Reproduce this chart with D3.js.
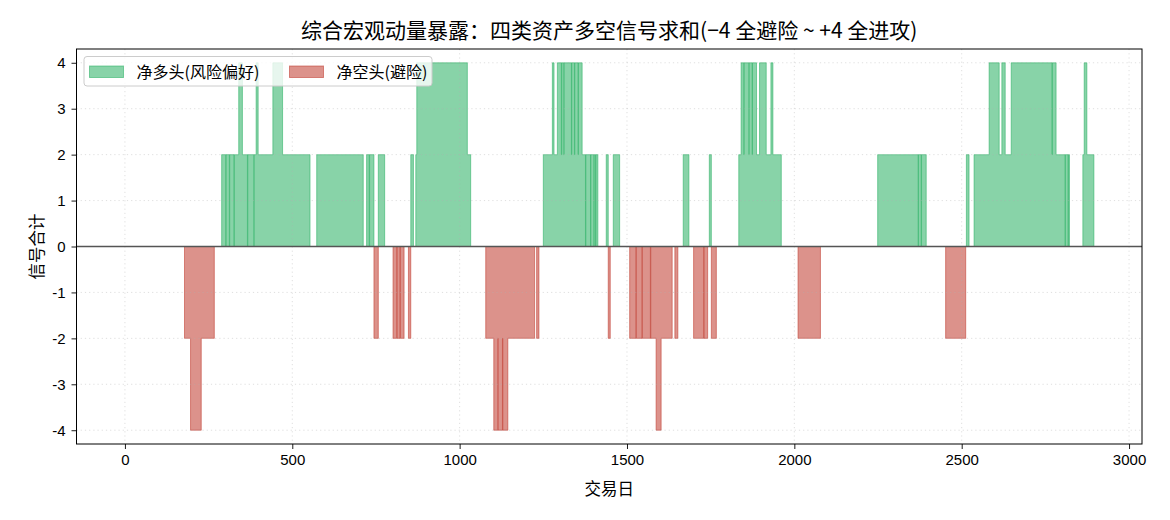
<!DOCTYPE html>
<html>
<head>
<meta charset="utf-8">
<script src="https://cdn.jsdelivr.net/npm/d3@7"></script>
<style>
  body { margin: 0; background: #fff; }
  svg { display: block; }
</style>
</head>
<body>
<div id="chart"></div>
<script>
// signal: value holds from segStart[i] until segStart[i+1]
const segStart = [0, 178, 196, 228, 267, 289, 301, 302, 312, 313, 326, 327, 340, 351, 366, 367, 385, 386, 392, 398, 442, 471, 553,
  573, 712, 722, 730, 731, 744, 757, 776, 801, 812, 813, 822, 823, 834, 847, 854, 862,
  869, 872, 1023, 1033, 1078, 1102, 1114, 1115, 1128, 1129, 1144, 1224, 1230, 1237,
  1250, 1277, 1282, 1292, 1304, 1305, 1311, 1312, 1334, 1335, 1343, 1344, 1354, 1355, 1366, 1376, 1377, 1391, 1392, 1401, 1402, 1406, 1407, 1413,
  1438, 1444, 1450, 1459, 1478,
  1508, 1527, 1528, 1545, 1546, 1570, 1571, 1587, 1602, 1635, 1643, 1652, 1668, 1685,
  1699, 1729, 1730, 1741, 1746, 1752, 1767,
  1834, 1841, 1849, 1850, 1864, 1865, 1874, 1875, 1887, 1896, 1916, 1930, 1936, 1961,
  2011, 2078, 2249, 2370, 2371, 2379, 2380, 2394, 2452, 2512, 2514, 2522,
  2537, 2582, 2612, 2620, 2630, 2648, 2770, 2771, 2782, 2809, 2810, 2818, 2819, 2822, 2862, 2866, 2874];
const segValue = [0, -2, -4, -2, 0, 2, 0, 2, 0, 2, 0, 2, 4, 2, 0, 2, 0, 2, 4, 2, 4, 2, 0,
  2, 0, 2, 0, 2, -2, 2, 0, -2, 0, -2, 0, -2, 0, -2, 2, 0,
  2, 4, 2, 0, -2, -4, -2, -4, -2, -4, -2, 0, -2, 0,
  2, 4, 2, 4, 2, 4, 2, 4, 2, 4, 2, 4, 2, 4, 2, 0, 2, 0, 2, 0, 2, 0, 2, 0,
  2, -2, 0, 2, 0,
  -2, 0, -2, 0, -2, 0, -2, -4, -2, 0, -2, 0, 2, 0,
  -2, 0, -2, 0, 2, -2, 0,
  2, 4, 2, 4, 2, 4, 2, 4, 2, 4, 2, 4, 2, 0,
  -2, 0, 2, 0, 2, 0, 2, 0, -2, 0, 2, 0,
  2, 4, 2, 4, 2, 4, 2, 4, 2, 0, 2, 0, 2, 0, 2, 4, 2];
const nDays = 2895;

const xTicks = [0, 500, 1000, 1500, 2000, 2500, 3000];
const yTicks = [-4, -3, -2, -1, 0, 1, 2, 3, 4];

const title = "综合宏观动量暴露：四类资产多空信号求和(−4 全避险 ~ +4 全进攻)";
const xLabel = "交易日";
const yLabel = "信号合计";
const seriesNames = ["净多头(风险偏好)", "净空头(避险)"];
const seriesColors = ["#27ae60", "#c0392b"];

// expand runs into one value per day
const signal = [];
let k = 0;
for (let d = 0; d < nDays; d++) {
  while (k + 1 < segStart.length && segStart[k + 1] <= d) k++;
  signal.push(segValue[k]);
}

const W = 1170, H = 520;
const margin = {top: 49, right: 28, bottom: 76, left: 76.5};
const iw = W - margin.left - margin.right;
const ih = H - margin.top - margin.bottom;

const svg = d3.select("#chart").append("svg")
  .attr("width", W).attr("height", H);

const xSpan = nDays - 1;
const x = d3.scaleLinear()
  .domain([-0.05 * xSpan, 1.05 * xSpan])
  .range([0, iw]);
const y = d3.scaleLinear()
  .domain([-4.3, 4.3])
  .range([ih, 0]);

const g = svg.append("g")
  .attr("transform", `translate(${margin.left},${margin.top})`);

// runs of same-signed non-zero values -> one polygon each
const runs = [];
let start = null;
for (let d = 0; d <= nDays; d++) {
  const s = d < nDays ? Math.sign(signal[d]) : 0;
  const prev = start !== null ? Math.sign(signal[start]) : 0;
  if (start !== null && s !== prev) {
    runs.push({a: start, b: d, sign: prev});
    start = null;
  }
  if (start === null && s !== 0) start = d;
}

const area = d3.area()
  .x(d => x(d.t))
  .y0(y(0))
  .y1(d => y(d.v))
  .curve(d3.curveStepAfter);

const fills = g.append("g");
runs.forEach(r => {
  const pts = [];
  for (let d = r.a; d < r.b; d++) pts.push({t: d, v: signal[d]});
  pts.push({t: r.b, v: signal[r.b - 1]});
  const c = r.sign > 0 ? seriesColors[0] : seriesColors[1];
  fills.append("path")
    .attr("d", area(pts))
    .attr("fill", c)
    .attr("fill-opacity", 0.55)
    .attr("stroke", c)
    .attr("stroke-opacity", 0.55)
    .attr("stroke-width", 1);
});

// grid (drawn above the fills, like the original)
const grid = g.append("g");
grid.selectAll(".gx").data(xTicks).enter().append("line")
  .attr("x1", d => x(d)).attr("x2", d => x(d))
  .attr("y1", 0).attr("y2", ih)
  .attr("stroke", "#b0b0b0").attr("stroke-opacity", 0.45)
  .attr("stroke-width", 0.9).attr("stroke-dasharray", "1.2,3");
grid.selectAll(".gy").data(yTicks).enter().append("line")
  .attr("x1", 0).attr("x2", iw)
  .attr("y1", d => y(d)).attr("y2", d => y(d))
  .attr("stroke", "#b0b0b0").attr("stroke-opacity", 0.45)
  .attr("stroke-width", 0.9).attr("stroke-dasharray", "1.2,3");

// zero line
g.append("line")
  .attr("x1", 0).attr("x2", iw)
  .attr("y1", y(0)).attr("y2", y(0))
  .attr("stroke", "#555").attr("stroke-width", 1.3);

// axes, plain integers with an ascii hyphen for negatives
const tickFont = "'Liberation Sans', Arial, sans-serif";
const xAxis = g.append("g")
  .attr("transform", `translate(0,${ih})`)
  .call(d3.axisBottom(x).tickValues(xTicks).tickFormat(d => String(d)).tickSize(5).tickPadding(5));
const yAxis = g.append("g")
  .call(d3.axisLeft(y).tickValues(yTicks).tickFormat(d => String(d)).tickSize(5).tickPadding(6));
[xAxis, yAxis].forEach(a => {
  a.select(".domain").remove();
  a.selectAll(".tick line").attr("stroke", "#000").attr("stroke-width", 0.9);
  a.selectAll(".tick text")
    .attr("fill", "#000")
    .style("font-family", tickFont)
    .style("font-size", "15px");
});

// frame
g.append("rect")
  .attr("x", 0).attr("y", 0).attr("width", iw).attr("height", ih)
  .attr("fill", "none").attr("stroke", "#000").attr("stroke-width", 1);

const cjk = "'Noto Sans CJK SC', 'Noto Sans', sans-serif";

svg.append("text")
  .attr("x", margin.left + iw / 2).attr("y", 38)
  .attr("text-anchor", "middle")
  .style("font-family", cjk).style("font-size", "21px")
  .text(title);

svg.append("text")
  .attr("x", margin.left + iw / 2).attr("y", 495)
  .attr("text-anchor", "middle")
  .style("font-family", cjk).style("font-size", "16.5px")
  .text(xLabel);

svg.append("text")
  .attr("transform", `translate(43,${margin.top + y(0)}) rotate(-90)`)
  .attr("text-anchor", "middle")
  .style("font-family", cjk).style("font-size", "16.5px")
  .text(yLabel);

// legend
const lg = svg.append("g").attr("transform", "translate(84,56.5)");
lg.append("rect")
  .attr("width", 348).attr("height", 29.5).attr("rx", 3)
  .attr("fill", "#fff").attr("fill-opacity", 0.8)
  .attr("stroke", "#ccc").attr("stroke-width", 1);
const entryX = [5.5, 205.5];
seriesNames.forEach((name, i) => {
  lg.append("rect")
    .attr("x", entryX[i]).attr("y", 9.5)
    .attr("width", 34).attr("height", 11.5)
    .attr("fill", seriesColors[i]).attr("fill-opacity", 0.55)
    .attr("stroke", seriesColors[i]).attr("stroke-opacity", 0.55);
  lg.append("text")
    .attr("x", entryX[i] + 47).attr("y", 21)
    .style("font-family", cjk).style("font-size", "16px")
    .text(name);
});
</script>
</body>
</html>
